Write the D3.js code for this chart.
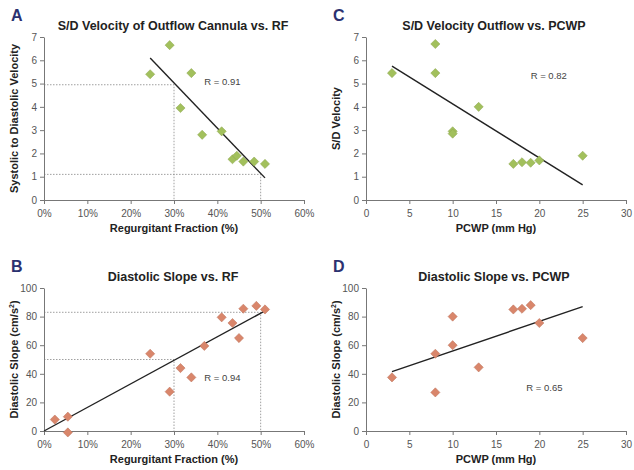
<!DOCTYPE html>
<html>
<head>
<meta charset="utf-8">
<script src="https://cdn.jsdelivr.net/npm/d3@7"></script>
<style>
  body { margin: 0; background: #fff; }
  text { font-family: "Liberation Sans", Arial, sans-serif; }
</style>
</head>
<body>
<script>
// values
var rfA = [24.5, 29, 34, 31.5, 36.5, 41, 43.5, 44.5, 46, 48.5, 51];
var sdA = [5.4, 6.65, 5.45, 3.95, 2.8, 2.95, 1.75, 1.9, 1.65, 1.65, 1.55];
var fitA = [[24.5, 6.1], [51, 0.95]];
var guideA = [[30, 4.95], [50, 1.1]];

var pcwpC = [3, 8, 8, 10, 10, 13, 17, 18, 19, 20, 25];
var sdC = [5.45, 6.7, 5.45, 2.95, 2.85, 4.0, 1.55, 1.62, 1.6, 1.7, 1.9];
var fitC = [[3, 5.75], [25, 0.65]];

var rfB = [2.5, 5.5, 5.5, 24.5, 29, 31.5, 34, 37, 41, 43.5, 45, 46, 49, 51];
var slopeB = [8, 10, -1, 54, 27.5, 44, 37.5, 59.5, 79.5, 75.5, 65, 85.5, 87.5, 85];
var fitB = [[0, 0], [51, 84]];
var guideB = [[30, 50], [50, 83]];

var pcwpD = [3, 8, 8, 10, 10, 13, 17, 18, 19, 20, 25];
var slopeD = [37.5, 27, 54, 80, 60, 44.5, 85, 85.5, 88, 75.5, 65];
var fitD = [[3, 41.5], [25, 87]];

var rfTicks = [0, 10, 20, 30, 40, 50, 60];
var pcwpTicks = [0, 5, 10, 15, 20, 25, 30];
var sdTicks = [0, 1, 2, 3, 4, 5, 6, 7];
var slopeTicks = [0, 20, 40, 60, 80, 100];

var green = "#a2c05c";
var orange = "#d9866b";

var svg = d3.select("body").append("svg")
  .attr("width", 634)
  .attr("height", 470);

function drawPanel(p) {
  var x = d3.scaleLinear().domain(p.xDomain).range([p.left, p.right]);
  var y = d3.scaleLinear().domain(p.yDomain).range([p.bottom, p.top]);
  var g = svg.append("g");

  // panel letter
  g.append("text")
    .attr("x", p.left - 33).attr("y", p.top - 16)
    .attr("font-size", 16).attr("font-weight", "bold")
    .attr("fill", "#2b3170")
    .text(p.letter);

  // title
  g.append("text")
    .attr("x", p.titleX).attr("y", p.top - 7)
    .attr("text-anchor", "middle")
    .attr("font-size", 12.5).attr("font-weight", "bold")
    .attr("fill", "#222")
    .text(p.title);

  // dotted guides
  (p.guides || []).forEach(function(d) {
    g.append("path")
      .attr("d", "M" + x(0) + "," + y(d[1]) + "H" + x(d[0]) + "V" + y(0))
      .attr("fill", "none")
      .attr("stroke", "#888")
      .attr("stroke-width", 0.8)
      .attr("stroke-dasharray", "1.5,1.5");
  });

  // axes
  var xAxis = d3.axisBottom(x).tickValues(p.xTicks).tickSize(4).tickSizeOuter(0)
    .tickFormat(p.xFormat);
  var yAxis = d3.axisLeft(y).tickValues(p.yTicks).tickSize(4).tickSizeOuter(0)
    .tickFormat(d3.format("d"));

  var gx = g.append("g").attr("transform", "translate(0," + p.bottom + ")").call(xAxis);
  var gy = g.append("g").attr("transform", "translate(" + p.left + ",0)").call(yAxis);
  [gx, gy].forEach(function(a) {
    a.select(".domain").attr("stroke", "#777");
    a.selectAll(".tick line").attr("stroke", "#777");
    a.selectAll(".tick text")
      .attr("fill", "#555")
      .attr("font-size", 10)
      .attr("font-family", "Liberation Sans, Arial, sans-serif");
  });
  gx.selectAll(".tick text").attr("dy", "0.95em");

  // axis titles
  g.append("text")
    .attr("x", (p.left + p.right) / 2).attr("y", p.bottom + 32)
    .attr("text-anchor", "middle")
    .attr("font-size", 11).attr("font-weight", "bold")
    .attr("fill", "#222")
    .text(p.xLabel);

  var yl = g.append("text")
    .attr("transform", "translate(" + (p.left - 26) + "," + ((p.top + p.bottom) / 2) + ") rotate(-90)")
    .attr("text-anchor", "middle")
    .attr("font-size", 11).attr("font-weight", "bold")
    .attr("fill", "#222");
  if (p.sup) {
    yl.append("tspan").text(p.yLabel);
    yl.append("tspan").attr("font-size", 7).attr("dy", -4).text("2");
    yl.append("tspan").attr("dy", 4).text(")");
  } else {
    yl.text(p.yLabel);
  }

  // regression line
  g.append("line")
    .attr("x1", x(p.fit[0][0])).attr("y1", y(p.fit[0][1]))
    .attr("x2", x(p.fit[1][0])).attr("y2", y(p.fit[1][1]))
    .attr("stroke", "#222").attr("stroke-width", 1.4);

  // points
  var pts = p.xs.map(function(v, i) { return [v, p.ys[i]]; });
  g.selectAll(".pt").data(pts).enter().append("path")
    .attr("class", "pt")
    .attr("d", d3.symbol(d3.symbolSquare).size(42))
    .attr("transform", function(d) { return "translate(" + x(d[0]) + "," + y(d[1]) + ") rotate(45)"; })
    .attr("fill", p.color)
    .attr("stroke", d3.color(p.color).darker(0.4))
    .attr("stroke-width", 0.5);

  // R value
  g.append("text")
    .attr("x", x(p.r[0])).attr("y", y(p.r[1]))
    .attr("font-size", 9.5).attr("fill", "#444")
    .text(p.r[2]);
}

var pct = function(d) { return d + "%"; };

drawPanel({
  letter: "A", title: "S/D Velocity of Outflow Cannula vs. RF", titleX: 173,
  left: 44, right: 304, top: 37, bottom: 200,
  xDomain: [0, 60], yDomain: [0, 7], xTicks: rfTicks, yTicks: sdTicks, xFormat: pct,
  xLabel: "Regurgitant Fraction (%)", yLabel: "Systolic to Diastolic Velocity",
  xs: rfA, ys: sdA, fit: fitA, guides: guideA, color: green, r: [37, 4.95, "R = 0.91"]
});

drawPanel({
  letter: "C", title: "S/D Velocity Outflow vs. PCWP", titleX: 494,
  left: 366, right: 626, top: 37, bottom: 200,
  xDomain: [0, 30], yDomain: [0, 7], xTicks: pcwpTicks, yTicks: sdTicks, xFormat: d3.format("d"),
  xLabel: "PCWP (mm Hg)", yLabel: "S/D Velocity",
  xs: pcwpC, ys: sdC, fit: fitC, guides: [], color: green, r: [19, 5.2, "R = 0.82"]
});

drawPanel({
  letter: "B", title: "Diastolic Slope vs. RF", titleX: 173,
  left: 44, right: 304, top: 288, bottom: 431,
  xDomain: [0, 60], yDomain: [0, 100], xTicks: rfTicks, yTicks: slopeTicks, xFormat: pct,
  xLabel: "Regurgitant Fraction (%)", yLabel: "Diastolic Slope (cm/s", sup: true,
  xs: rfB, ys: slopeB, fit: fitB, guides: guideB, color: orange, r: [37, 35, "R = 0.94"]
});

drawPanel({
  letter: "D", title: "Diastolic Slope vs. PCWP", titleX: 494,
  left: 366, right: 626, top: 288, bottom: 431,
  xDomain: [0, 30], yDomain: [0, 100], xTicks: pcwpTicks, yTicks: slopeTicks, xFormat: d3.format("d"),
  xLabel: "PCWP (mm Hg)", yLabel: "Diastolic Slope (cm/s", sup: true,
  xs: pcwpD, ys: slopeD, fit: fitD, guides: [], color: orange, r: [18.5, 28, "R = 0.65"]
});
</script>
</body>
</html>
